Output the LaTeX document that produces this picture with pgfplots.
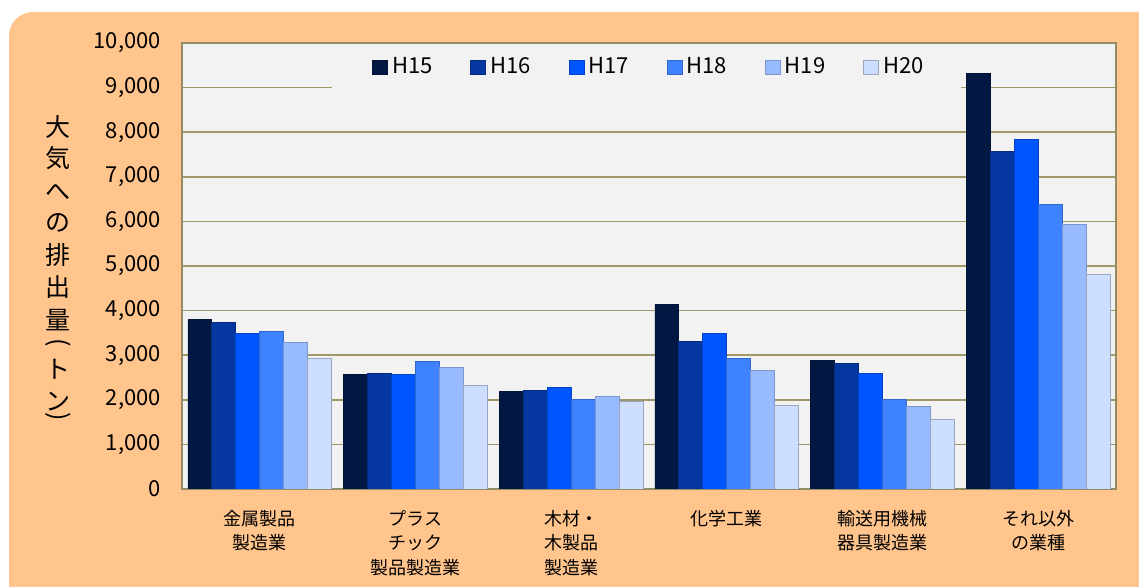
\documentclass[border=0pt]{standalone}
\usepackage{fontspec}
\setmainfont{Noto Sans CJK JP}
\usepackage{pgfplots}
\pgfplotsset{compat=1.18}

\definecolor{bgorange}{RGB}{255,197,140}
\definecolor{plotbg}{RGB}{242,242,242}
\definecolor{gridol}{RGB}{160,152,105}
\definecolor{axisol}{RGB}{145,140,100}
\definecolor{cA}{RGB}{2,24,66}
\definecolor{cB}{RGB}{5,55,160}
\definecolor{cC}{RGB}{0,85,255}
\definecolor{cD}{RGB}{62,130,255}
\definecolor{cE}{RGB}{152,187,255}
\definecolor{cF}{RGB}{205,222,255}

\pgfplotsset{
  lgsq/.style={legend image code/.code={\fill[##1] (0pt,-3.5pt) rectangle (7.5pt,3.5pt);}},
}

\begin{document}
\begin{tikzpicture}
\clip (0,0) rectangle (569.5pt,293.5pt);
\fill[bgorange, rounded corners=12pt] (4.5pt,-10pt) rectangle (590pt,287.5pt);

% y label, set vertically
\foreach \c/\y in {大/230, 気/214.5, へ/197.5, の/182, 排/166, 出/150, 量/133.5, ト/109, ン/92.5}
  \node[font=\fontsize{12.5}{12.5}\selectfont, inner sep=0pt] at (29pt,\y pt) {\c};
\node[font=\fontsize{12.5}{12.5}\selectfont, inner sep=0pt, rotate=-90] at (29pt,122pt) {(};
\node[font=\fontsize{12.5}{12.5}\selectfont, inner sep=0pt, rotate=-90] at (29pt,85pt) {)};

\begin{axis}[
  at={(91pt,49pt)}, anchor=south west,
  scale only axis, width=467pt, height=223pt,
  xmin=-0.5, xmax=5.5, ymin=0, ymax=10000,
  xtick={0,...,5},
  xticklabels={{金属製品\\製造業},{プラス\\チック\\製品製造業},{木材・\\木製品\\製造業},{化学工業},{輸送用機械\\器具製造業},{それ以外\\の業種}},
  ytick distance=1000,
  scaled y ticks=false,
  /pgf/number format/1000 sep={,},
  /pgf/number format/assume math mode=true,
  yticklabel style={font=\fontsize{11}{13}\selectfont, xshift=-7pt},
  xticklabel style={font=\fontsize{9}{12.25}\selectfont, align=center, yshift=-7pt},
  major tick length=0pt,
  axis background/.style={fill=plotbg},
  ymajorgrids, grid style={gridol, line width=0.75pt},
  axis line style={axisol, line width=1pt},
  ybar=0pt, bar width=0.154,
  legend columns=6,
  legend style={at={(0.501,0.946)}, anchor=center, draw=none, fill=none,
    font=\fontsize{11}{13}\selectfont,
    /tikz/every even column/.append style={column sep=17pt}},
]
\fill[plotbg] (rel axis cs:0.1606,0.895) rectangle (rel axis cs:0.834,0.995);
\addplot[fill=cA, draw=cA!80!black, line width=0.4pt, lgsq] coordinates {(0,3800) (1,2570) (2,2190) (3,4140) (4,2890) (5,9320)};
\addplot[fill=cB, draw=cB!80!black, line width=0.4pt, lgsq] coordinates {(0,3740) (1,2590) (2,2210) (3,3300) (4,2820) (5,7570)};
\addplot[fill=cC, draw=cC!80!black, line width=0.4pt, lgsq] coordinates {(0,3490) (1,2570) (2,2280) (3,3490) (4,2590) (5,7840)};
\addplot[fill=cD, draw=cD!80!black, line width=0.4pt, lgsq] coordinates {(0,3530) (1,2860) (2,2010) (3,2920) (4,2010) (5,6380)};
\addplot[fill=cE, draw=cE!80!black, line width=0.4pt, lgsq] coordinates {(0,3280) (1,2720) (2,2080) (3,2660) (4,1850) (5,5930)};
\addplot[fill=cF, draw=cF!75!black, line width=0.4pt, lgsq] coordinates {(0,2920) (1,2330) (2,1970) (3,1870) (4,1560) (5,4810)};
\legend{H15,H16,H17,H18,H19,H20}
\end{axis}
\end{tikzpicture}
\end{document}
